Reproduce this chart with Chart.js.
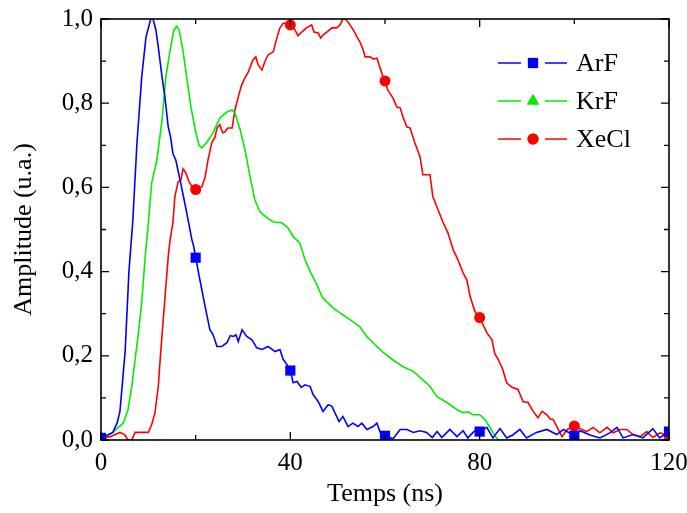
<!DOCTYPE html>
<html>
<head>
<meta charset="utf-8">
<script src="https://cdn.jsdelivr.net/npm/chart.js@4/dist/chart.umd.min.js"></script>
<style>
html,body{margin:0;padding:0;background:#fff;}
#wrap{width:687px;height:513px;position:relative;}
</style>
</head>
<body>
<div id="wrap"><canvas id="c" width="687" height="513"></canvas></div>
<script>
// ---- data (time in ns, amplitude in a.u.) ----
const seriesNames = ["ArF", "KrF", "XeCl"];
const xTickLabels = [0, 40, 80, 120];
const yTickLabels = ["0,0", "0,2", "0,4", "0,6", "0,8", "1,0"];

const arfData = [[0,0.005],[0.8,0.008],[1.5,0.012],[2.5,0.018],[3.4,0.04],[4.0,0.068],[5.1,0.21],[5.9,0.40],[6.7,0.517],[7.6,0.706],[8.6,0.862],[9.5,0.957],[10,0.978],[10.5,1.0],[11,1.0],[11.6,0.974],[12.1,0.934],[12.9,0.862],[13.5,0.815],[14.2,0.744],[14.7,0.72],[15.2,0.68],[15.8,0.665],[16.7,0.618],[17.7,0.563],[18.4,0.523],[19.2,0.476],[19.6,0.459],[20,0.433],[20.9,0.38],[22,0.317],[23,0.262],[23.7,0.25],[24.5,0.222],[25.5,0.222],[26.6,0.231],[27.3,0.248],[28,0.246],[28.5,0.25],[29,0.234],[29.8,0.262],[30.8,0.246],[31.9,0.238],[32.9,0.219],[34,0.215],[35.3,0.222],[36.8,0.21],[37.8,0.215],[38.5,0.191],[39.3,0.179],[40,0.165],[40.6,0.136],[41.4,0.139],[42.3,0.125],[43.1,0.131],[44.2,0.127],[44.8,0.108],[45.9,0.091],[46.9,0.068],[48,0.084],[48.8,0.08],[49.4,0.065],[50.3,0.044],[51.1,0.056],[52.2,0.032],[53.2,0.04],[54.3,0.032],[55.1,0.04],[56.2,0.025],[57.5,0.032],[58.3,0.04],[59,0.018],[60,0.01],[61.7,0.003],[63.2,0.025],[64.6,0.025],[66,0.018],[67.4,0.022],[68.8,0.018],[70,0.006],[71,0.02],[72,0.006],[73.7,0.025],[75.2,0.008],[76.5,0.022],[77.5,0.005],[78.6,0.018],[79.4,0.025],[80,0.02],[81.5,0.03],[82.8,0.005],[84.3,0.027],[85.7,0.005],[87,0.012],[88.5,0.025],[89.9,0.005],[92,0.018],[94.2,0.025],[96.3,0.013],[97.7,0.025],[100,0.01],[101.2,0.022],[103.3,0.012],[105.4,0.005],[107.5,0.017],[109,0.03],[110.3,0.005],[112.4,0.013],[114.5,0.005],[116.6,0.027],[118,0.005],[120,0.02]];

const krfData = [[0,0],[1,0.01],[2.5,0.018],[3.5,0.028],[4.7,0.04],[5.7,0.072],[6.5,0.127],[7.2,0.19],[7.9,0.254],[8.6,0.326],[9.3,0.43],[10,0.516],[10.7,0.61],[11.8,0.665],[12.9,0.76],[13.7,0.862],[14.6,0.926],[15.4,0.974],[16,0.983],[16.5,0.974],[17.3,0.926],[18.1,0.862],[19,0.791],[19.9,0.737],[20.7,0.70],[21.3,0.694],[22.3,0.706],[23.7,0.73],[25.1,0.765],[26.6,0.779],[27.7,0.784],[28.3,0.777],[29.4,0.737],[30.4,0.69],[31.5,0.625],[32.5,0.57],[33.6,0.542],[35,0.528],[36.4,0.518],[38.2,0.516],[39.5,0.504],[40.6,0.483],[42,0.468],[43.1,0.428],[44.2,0.40],[45.6,0.369],[46.7,0.34],[47.7,0.328],[49,0.314],[50.5,0.302],[52.6,0.286],[54.7,0.269],[56.2,0.245],[57.5,0.231],[59.6,0.208],[61.7,0.19],[63.8,0.174],[66,0.163],[68,0.143],[69.5,0.127],[71,0.103],[73.1,0.089],[75.2,0.072],[76.5,0.065],[77.5,0.067],[78.6,0.06],[80,0.06],[81.1,0.049],[82.2,0.029],[83.3,0.008],[84,0],[100,0]];

const xeclData = [[0,0.005],[1,0.006],[2,0.008],[3,0.013],[4,0.018],[5,0.013],[5.7,0],[6.5,0],[7.2,0.018],[10,0.018],[10.7,0.036],[11.4,0.065],[12.1,0.127],[12.6,0.207],[13.2,0.293],[13.7,0.364],[14.2,0.435],[14.6,0.476],[15.2,0.516],[15.6,0.578],[16.3,0.613],[16.9,0.618],[17.3,0.644],[17.9,0.635],[18.6,0.613],[19.4,0.599],[20,0.595],[21.3,0.601],[22,0.625],[22.6,0.665],[23.4,0.706],[24.1,0.72],[24.5,0.741],[25.1,0.749],[25.7,0.73],[26.2,0.732],[26.8,0.741],[27.7,0.741],[28.3,0.784],[29,0.815],[29.7,0.843],[30.4,0.86],[31.1,0.874],[32.1,0.903],[32.7,0.91],[33.2,0.891],[34,0.879],[34.6,0.898],[35.3,0.915],[36.4,0.922],[37.2,0.957],[37.8,0.979],[38.5,0.99],[39.5,0.99],[40,0.986],[41,0.974],[41.6,0.96],[42.4,0.969],[43.4,0.979],[44.5,0.986],[45,0.969],[45.9,0.967],[46.4,0.955],[46.9,0.962],[47.7,0.969],[48.8,0.979],[49.8,0.979],[50.5,0.986],[51.1,1.0],[51.8,0.998],[52.6,0.986],[53.3,0.974],[54.1,0.957],[54.7,0.946],[55.4,0.926],[55.8,0.91],[56.8,0.91],[57.5,0.905],[58.3,0.907],[58.9,0.886],[59.6,0.862],[60,0.853],[60.6,0.831],[61.7,0.812],[62.5,0.791],[63.2,0.789],[63.8,0.767],[64.6,0.744],[65.3,0.741],[66.3,0.706],[67.4,0.673],[68,0.63],[69.5,0.63],[70.1,0.578],[71.2,0.547],[72.3,0.516],[73.3,0.492],[74.4,0.452],[75.4,0.428],[76.5,0.397],[77.3,0.38],[78,0.34],[79,0.305],[80,0.291],[81.5,0.255],[82.6,0.238],[83.2,0.205],[84,0.19],[84.9,0.167],[85.7,0.136],[86.8,0.125],[88.1,0.12],[89.2,0.091],[90.2,0.089],[91.3,0.068],[92.3,0.053],[93.2,0.068],[94.2,0.06],[94.9,0.05],[95.5,0.049],[96.6,0.025],[97.4,0.008],[98.5,0.025],[100,0.033],[101.2,0.027],[102.6,0.02],[104,0.03],[105.4,0.017],[106.9,0.03],[108.2,0.017],[109.7,0.025],[111.1,0.025],[112.4,0.013],[113.9,0.008],[115.3,0.02],[116.6,0.006],[118.1,0.017],[120,0.01]];

const seriesColors = ["#0000ff", "#00ee00", "#ff0000"];
const seriesMarkers = ["rect", "triangle", "circle"];
const markerStep = 20;

const FONT = "'Liberation Serif', 'Times New Roman', serif";

function toPts(arr){ return arr.map(p => ({x:p[0], y:p[1]})); }

function markerRadius(r, show){
  return ctx => (show && ctx.raw && Math.abs(ctx.raw.x % markerStep) < 1e-9) ? r : 0;
}

const datasets = [
  {label: seriesNames[0], data: toPts(arfData), borderColor: seriesColors[0], backgroundColor: seriesColors[0],
   pointStyle: seriesMarkers[0], pointRadius: markerRadius(7.2, true), borderWidth: 1.6, pointBorderWidth: 0},
  {label: seriesNames[1], data: toPts(krfData), borderColor: seriesColors[1], backgroundColor: seriesColors[1],
   pointStyle: seriesMarkers[1], pointRadius: markerRadius(6, false), borderWidth: 1.6, pointBorderWidth: 0},
  {label: seriesNames[2], data: toPts(xeclData), borderColor: seriesColors[2], backgroundColor: seriesColors[2],
   pointStyle: seriesMarkers[2], pointRadius: markerRadius(5.5, true), borderWidth: 1.6, pointBorderWidth: 0}
];

// frame with inward ticks on all four sides + inner legend
const framePlugin = {
  id: 'frame',
  afterDatasetsDraw(chart){
    const {ctx, chartArea: a, scales} = chart;
    const xs = scales.x, ys = scales.y;
    ctx.save();
    ctx.strokeStyle = '#000';
    ctx.lineWidth = 1.6;
    ctx.strokeRect(a.left, a.top, a.right - a.left, a.bottom - a.top);
    ctx.lineWidth = 1.3;
    ctx.beginPath();
    for (let v = 0; v <= 120; v += 20){
      const px = xs.getPixelForValue(v);
      const len = (v % 40 === 0) ? 8 : 5;
      ctx.moveTo(px, a.bottom); ctx.lineTo(px, a.bottom - len);
      ctx.moveTo(px, a.top); ctx.lineTo(px, a.top + len);
    }
    for (let i = 0; i <= 10; i++){
      const v = i / 10;
      const py = ys.getPixelForValue(v);
      const len = (i % 2 === 0) ? 8 : 5;
      ctx.moveTo(a.left, py); ctx.lineTo(a.left + len, py);
      ctx.moveTo(a.right, py); ctx.lineTo(a.right - len, py);
    }
    ctx.stroke();

    // legend
    const lx0 = 498, lx1 = 567, mx = 533, tx = 576;
    const ly = [63, 101, 139];
    chart.data.datasets.forEach((ds, i) => {
      const y = ly[i];
      ctx.strokeStyle = ds.borderColor;
      ctx.lineWidth = 1.6;
      ctx.beginPath();
      ctx.moveTo(lx0, y); ctx.lineTo(mx - 12, y);
      ctx.moveTo(mx + 12, y); ctx.lineTo(lx1, y);
      ctx.stroke();
      ctx.fillStyle = ds.backgroundColor;
      const r = i === 0 ? 7.2 : (i === 1 ? 7 : 5.5);
      Chart.helpers.drawPoint(ctx, {pointStyle: ds.pointStyle, radius: r, borderWidth: 0}, mx, y);
      ctx.fill();
      ctx.fillStyle = '#000';
      ctx.font = '26px ' + FONT;
      ctx.textBaseline = 'middle';
      ctx.textAlign = 'left';
      ctx.fillText(ds.label, tx, y + 1);
    });
    ctx.restore();
  }
};

new Chart(document.getElementById('c'), {
  type: 'line',
  data: {datasets},
  options: {
    responsive: false,
    animation: false,
    events: [],
    layout: {padding: {top: 19, right: 18, left: 0, bottom: 0}},
    plugins: {legend: {display: false}, tooltip: {enabled: false}},
    elements: {line: {tension: 0}},
    scales: {
      x: {
        type: 'linear', min: 0, max: 120,
        grid: {display: false, drawTicks: false},
        border: {display: false},
        afterBuildTicks: s => { s.ticks = xTickLabels.map(v => ({value: v})); },
        ticks: {font: {family: FONT, size: 25}, color: '#000', padding: 8, maxRotation: 0,
                callback: v => String(v)},
        title: {display: true, text: 'Temps (ns)', font: {family: FONT, size: 26}, color: '#000',
                padding: {top: 0, bottom: 3}},
        afterFit: s => { s.height = 73; s.paddingLeft = 0; s.paddingRight = 0; }
      },
      y: {
        type: 'linear', min: 0, max: 1,
        grid: {display: false, drawTicks: false},
        border: {display: false},
        afterBuildTicks: s => { s.ticks = yTickLabels.map((t, i) => ({value: i * 0.2})); },
        ticks: {font: {family: FONT, size: 25}, color: '#000', padding: 8,
                callback: (v, i) => yTickLabels[i]},
        title: {display: true, text: 'Amplitude (u.a.)', font: {family: FONT, size: 26}, color: '#000',
                padding: {top: 9, bottom: 0}},
        afterFit: s => { s.width = 101; s.paddingTop = 0; s.paddingBottom = 0; }
      }
    }
  },
  plugins: [framePlugin]
});
</script>
</body>
</html>
